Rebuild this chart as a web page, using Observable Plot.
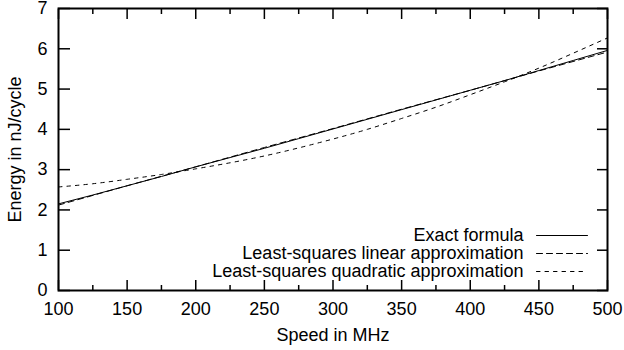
<!DOCTYPE html>
<html>
<head>
<meta charset="utf-8">
<script src="https://cdn.jsdelivr.net/npm/d3@7"></script>
<script src="https://cdn.jsdelivr.net/npm/@observablehq/plot@0.6"></script>
<style>
  html, body { margin: 0; padding: 0; background: #fff; }
  #chart svg { display: block; }
</style>
</head>
<body>
<div id="chart"></div>
<script>
// ---- data ----
const speedExact = [100,125,150,175,200,225,250,275,300,325,350,375,400,425,450,475,500];
const energyExact = [2.15,2.37,2.60,2.83,3.07,3.30,3.53,3.77,4.01,4.25,4.49,4.73,4.97,5.21,5.46,5.71,5.96];

const speedLinear = [100,150,200,250,300,350,400,450,500];
const energyLinear = [2.12,2.60,3.07,3.55,4.02,4.50,4.97,5.45,5.92];

const speedQuad = [100,125,150,175,200,225,250,275,300,325,350,375,400,425,450,475,500];
const energyQuad = [2.57,2.65,2.76,2.88,3.02,3.17,3.34,3.54,3.76,4.00,4.27,4.55,4.86,5.18,5.52,5.89,6.27];

const seriesNames = ["Exact formula", "Least-squares linear approximation", "Least-squares quadratic approximation"];
const seriesDash = [null, "6,4", "3.5,5"];

const xMajor = [100,150,200,250,300,350,400,450,500];
const xMinor = [125,175,225,275,325,375,425,475];
const yMajor = [0,1,2,3,4,5,6,7];

const xLabel = "Speed in MHz";
const yLabel = "Energy in nJ/cycle";

// ---- tables ----
const exact = speedExact.map((s, i) => ({speed: s, energy: energyExact[i]}));
const linear = speedLinear.map((s, i) => ({speed: s, energy: energyLinear[i]}));
const quad = speedQuad.map((s, i) => ({speed: s, energy: energyQuad[i]}));

const font = "'Liberation Sans', Arial, Helvetica, sans-serif";
const fs = 18;
const lineShape = {draw(ctx, l) { ctx.moveTo(0, 0); ctx.lineTo(0, -l); }};

const legendMarks = [];
seriesNames.forEach((name, i) => {
  const dy = -(290 - 235) + i * 18;
  legendMarks.push(Plot.text([name], {
    text: d => d, frameAnchor: "bottom-right", dx: -84, dy,
    textAnchor: "end", lineAnchor: "middle", fill: "#000", fontSize: fs
  }));
  legendMarks.push(Plot.vector([name], {
    frameAnchor: "bottom-right", dx: -71, dy, length: 51, rotate: 90,
    anchor: "start", shape: lineShape, stroke: "#000", strokeWidth: 1,
    strokeDasharray: seriesDash[i]
  }));
});

const chart = Plot.plot({
  width: 624,
  height: 350,
  marginLeft: 58,
  marginRight: 17,
  marginTop: 8,
  marginBottom: 60,
  style: {fontFamily: font, fontSize: fs + "px", color: "#000", background: "#fff", overflow: "visible"},
  x: {domain: [100, 500], label: null},
  y: {domain: [0, 7], label: null},
  marks: [
    // tick labels
    Plot.axisX(xMajor, {anchor: "bottom", tickSize: 0, tickPadding: 12, fontSize: fs}),
    Plot.axisY(yMajor, {anchor: "left", tickSize: 0, tickPadding: 11, fontSize: fs}),
    // inward ticks
    Plot.axisX(xMajor, {anchor: "bottom", tickSize: 10, dy: -10, tickFormat: () => "", strokeWidth: 1.5}),
    Plot.axisX(xMinor, {anchor: "bottom", tickSize: 5, dy: -5, tickFormat: () => "", strokeWidth: 1.5}),
    Plot.axisX(xMajor, {anchor: "top", tickSize: 10, dy: 10, tickFormat: () => "", strokeWidth: 1.5}),
    Plot.axisX(xMinor, {anchor: "top", tickSize: 5, dy: 5, tickFormat: () => "", strokeWidth: 1.5}),
    Plot.axisY(yMajor, {anchor: "left", tickSize: 12, dx: 12, tickFormat: () => "", strokeWidth: 1.5}),
    Plot.axisY(yMajor, {anchor: "right", tickSize: 11, dx: -11, tickFormat: () => "", strokeWidth: 1.5}),
    // axis titles
    Plot.text([xLabel], {text: d => d, frameAnchor: "bottom", dy: 45, textAnchor: "middle", lineAnchor: "middle", fontSize: fs, fill: "#000"}),
    Plot.text([yLabel], {text: d => d, frameAnchor: "left", dx: -43, rotate: -90, textAnchor: "middle", lineAnchor: "middle", fontSize: fs, fill: "#000"}),
    // series
    Plot.line(quad, {x: "speed", y: "energy", stroke: "#000", strokeWidth: 1, strokeDasharray: seriesDash[2], curve: "natural"}),
    Plot.line(linear, {x: "speed", y: "energy", stroke: "#000", strokeWidth: 1, strokeDasharray: seriesDash[1]}),
    Plot.line(exact, {x: "speed", y: "energy", stroke: "#000", strokeWidth: 1}),
    ...legendMarks,
    Plot.frame({stroke: "#000", strokeWidth: 2})
  ]
});
document.getElementById("chart").appendChild(chart);
</script>
</body>
</html>
